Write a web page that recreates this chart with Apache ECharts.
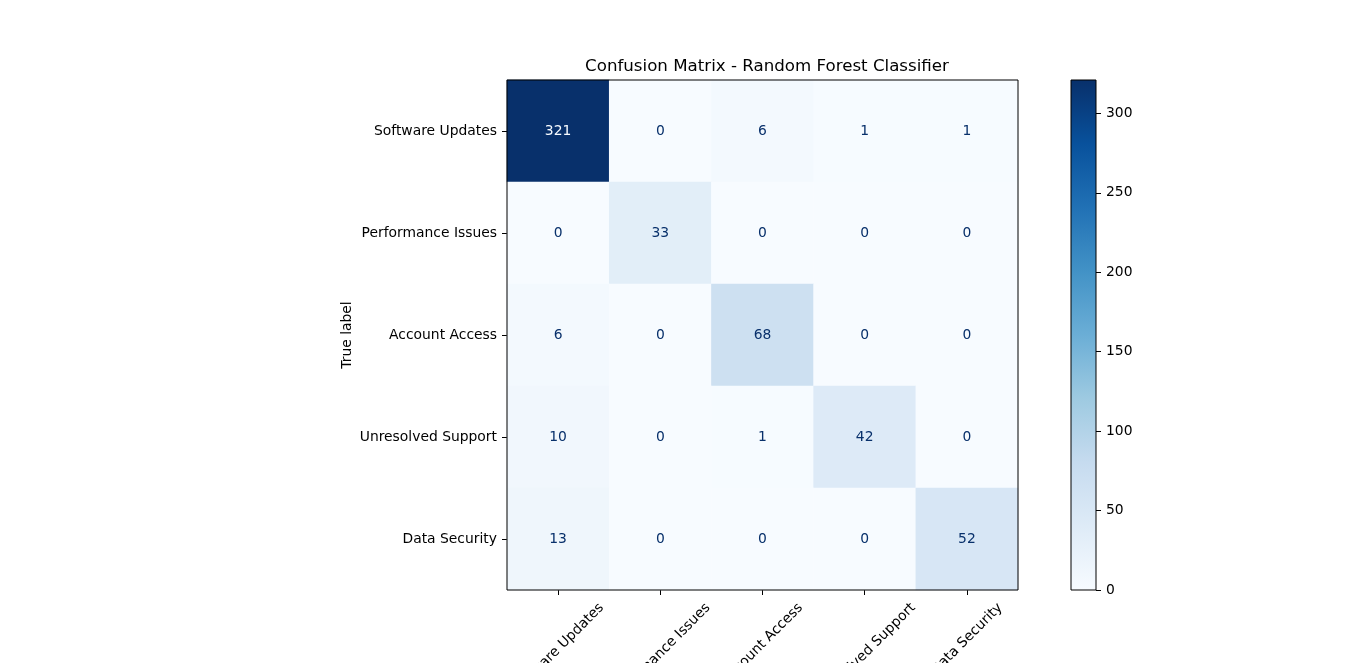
<!DOCTYPE html>
<html>
<head>
<meta charset="utf-8">
<script src="https://cdn.jsdelivr.net/npm/echarts@6/dist/echarts.min.js"></script>
<style>
html,body{margin:0;padding:0;background:#fff;}
#chart{width:1366px;height:663px;}
</style>
</head>
<body>
<div id="chart"></div>
<script>
const categories = ['Software Updates', 'Performance Issues', 'Account Access', 'Unresolved Support', 'Data Security'];
const row0 = [321, 0, 6, 1, 1];
const row1 = [0, 33, 0, 0, 0];
const row2 = [6, 0, 68, 0, 0];
const row3 = [10, 0, 1, 42, 0];
const row4 = [13, 0, 0, 0, 52];
const matrix = [row0, row1, row2, row3, row4];
const colorbarInterval = 50;
const blues = ['#f7fbff', '#deebf7', '#c6dbef', '#9ecae1', '#6baed6', '#4292c6', '#2171b5', '#08519c', '#08306b'];

const FONT = 'DejaVu Sans';
const FS = 13.89;
const vmax = Math.max(...matrix.flat());
const vmin = Math.min(...matrix.flat());
const thresh = (vmax + vmin) / 2;

const data = [];
matrix.forEach((row, r) => row.forEach((v, c) => {
  data.push({ value: [c, r, v], label: { color: v > thresh ? blues[0] : blues[8] } });
}));

// per-label padding to mimic matplotlib centered rotated tick labels
const ctx = document.createElement('canvas').getContext('2d');
ctx.font = FS + 'px "' + FONT + '"';
const rich = {};
const baseCenter = 636;
categories.forEach((c, i) => {
  const L = ctx.measureText(c).width;
  const cy = 600 + (L + 16) * 0.3536;
  const d = Math.max(0, cy - baseCenter) * 1.414;
  rich['c' + i] = { fontFamily: FONT, fontSize: FS, color: '#000', padding: [d, d, 0, 0] };
});

const chart = echarts.init(document.getElementById('chart'), null, { renderer: 'canvas' });
chart.setOption({
  backgroundColor: '#fff',
  animation: false,
  title: {
    text: 'Confusion Matrix - Random Forest Classifier',
    left: 762, top: 53, textAlign: 'center',
    textStyle: { fontFamily: FONT, fontSize: 16.67, fontWeight: 'normal', color: '#000' }
  },
  grid: [
    { left: 507, top: 80, width: 511, height: 510, outerBoundsMode: 'none', containLabel: false, show: true, borderColor: '#000', borderWidth: 1, backgroundColor: 'transparent', z: 5 },
    { left: 1071, top: 80, width: 25, height: 510, outerBoundsMode: 'none', containLabel: false, show: true, borderColor: '#000', borderWidth: 1, backgroundColor: 'transparent', z: 5 }
  ],
  visualMap: {
    show: false, type: 'continuous', seriesIndex: 0, min: 0, max: vmax, dimension: 2,
    inRange: { color: blues }
  },
  xAxis: [
    {
      type: 'category', data: categories, gridIndex: 0, position: 'bottom',
      axisLine: { show: false },
      axisTick: { show: true, alignWithLabel: true, length: 5, lineStyle: { color: '#000' } },
      splitLine: { show: false },
      axisLabel: {
        interval: 0, rotate: 45, margin: 46, align: 'center', verticalAlign: 'middle',
        formatter: (v, i) => '{c' + i + '|' + v + '}', rich: rich,
        fontFamily: FONT, fontSize: FS, color: '#000'
      }
    },
    { type: 'category', data: ['cb'], gridIndex: 1, show: false }
  ],
  yAxis: [
    {
      type: 'category', data: categories, gridIndex: 0, inverse: true,
      name: 'True label', nameLocation: 'middle', nameGap: 153, nameRotate: 90,
      nameTextStyle: { fontFamily: FONT, fontSize: FS, color: '#000' },
      axisLine: { show: false },
      axisTick: { show: true, alignWithLabel: true, length: 5, lineStyle: { color: '#000' } },
      splitLine: { show: false },
      axisLabel: { margin: 10, fontFamily: FONT, fontSize: FS, color: '#000' }
    },
    {
      type: 'value', gridIndex: 1, position: 'right', min: 0, max: vmax, interval: colorbarInterval,
      axisLine: { show: false },
      axisTick: { show: true, length: 5, lineStyle: { color: '#000' } },
      splitLine: { show: false },
      axisLabel: { margin: 10, showMaxLabel: false, fontFamily: FONT, fontSize: FS, color: '#000' }
    }
  ],
  series: [
    {
      type: 'heatmap', xAxisIndex: 0, yAxisIndex: 0, data: data,
      label: { show: true, fontFamily: FONT, fontSize: FS, formatter: p => p.value[2] },
      itemStyle: { borderWidth: 0 },
      emphasis: { disabled: true }
    },
    {
      type: 'bar', xAxisIndex: 1, yAxisIndex: 1, data: [vmax], barWidth: '100%', silent: true,
      itemStyle: {
        color: {
          type: 'linear', x: 0, y: 1, x2: 0, y2: 0,
          colorStops: blues.map((c, i) => ({ offset: i / (blues.length - 1), color: c }))
        }
      }
    }
  ]
});
</script>
</body>
</html>
